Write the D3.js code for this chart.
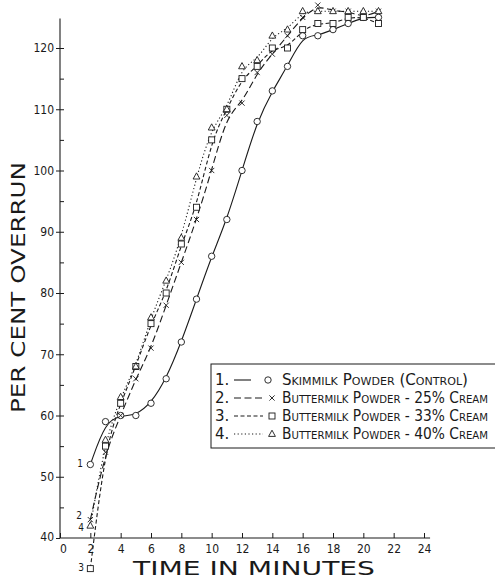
<!DOCTYPE html>
<html>
<head>
<meta charset="utf-8">
<script src="https://cdn.jsdelivr.net/npm/d3@7"></script>
<style>
  body { margin: 0; background: #fff; }
  svg { display: block; }
  text { fill: #1a1a1a; }
</style>
</head>
<body>
<svg id="chart" width="495" height="581"></svg>
<script>
// values (minutes / per cent overrun)
const times = [2, 3, 4, 5, 6, 7, 8, 9, 10, 11, 12, 13, 14, 15, 16, 17, 18, 19, 20, 21]
const skimmilk = [52, 59, 60, 60, 62, 66, 72, 79, 86, 92, 100, 108, 113, 117, 122, 122, 123, 124, 125, 125]
const butter_25 = [43, 54, 60, 66, 71, 78, 85, 92, 100, 109, 111, 116, 119, 122, 125, 127, 126, 126, 125, 126]
const butter_33 = [35, 55, 62, 68, 75, 80, 88, 94, 105, 110, 115, 117, 120, 120, 123, 124, 124, 125, 125, 124]
const butter_40 = [42, 56, 63, 68, 76, 82, 89, 99, 107, 110, 117, 118, 122, 123, 126, 126, 126, 126, 126, 126]

const x_ticks = [0, 2, 4, 6, 8, 10, 12, 14, 16, 18, 20, 22, 24]
const y_ticks = [40, 50, 60, 70, 80, 90, 100, 110, 120]
const y_minor = [45, 55, 65, 75, 85, 95, 105, 115]

const legend_nums = ['1.', '2.', '3.', '4.']
const legend_labels = [
  'Skimmilk Powder (Control)',
  'Buttermilk Powder - 25% Cream',
  'Buttermilk Powder - 33% Cream',
  'Buttermilk Powder - 40% Cream'
]
const curve_labels = ['1', '2', '3', '4']

const ink = '#1a1a1a'
const tick_font = '"Liberation Sans Narrow", "DejaVu Sans Condensed", "Liberation Sans", sans-serif'
const title_font = '"DejaVu Sans", "Liberation Sans", sans-serif'
const legend_font = '"DejaVu Sans Condensed", "Liberation Sans Narrow", "DejaVu Sans", sans-serif'

const svg = d3.select('#chart')

const x = d3.scaleLinear().domain([0, 24]).range([60, 424])
const y = d3.scaleLinear().domain([40, 120]).range([538, 48])

// series styles
const series = [
  { values: skimmilk, dash: null, marker: 'circle' },
  { values: butter_25, dash: '7,3.5', marker: 'cross' },
  { values: butter_33, dash: '4,2.5', marker: 'square' },
  { values: butter_40, dash: '1.2,2.4', marker: 'triangle' }
]

function draw_marker(g, kind, cx, cy) {
  if (kind == 'circle') {
    g.append('circle').attr('cx', cx).attr('cy', cy).attr('r', 3.2)
  } else if (kind == 'cross') {
    let s = 2.6
    g.append('path')
      .attr('d', `M${cx - s},${cy - s}L${cx + s},${cy + s}M${cx - s},${cy + s}L${cx + s},${cy - s}`)
  } else if (kind == 'square') {
    g.append('rect').attr('x', cx - 3).attr('y', cy - 3).attr('width', 6).attr('height', 6)
  } else {
    g.append('path')
      .attr('d', `M${cx},${cy - 3.8}L${cx + 3.4},${cy + 2.4}L${cx - 3.4},${cy + 2.4}Z`)
  }
}

// axes
let x_axis = d3.axisBottom(x)
  .tickValues(x_ticks)
  .tickSize(-5)
  .tickPadding(6)
  .tickFormat(d => d == 0 ? '0' : d)
let gx = svg.append('g')
  .attr('transform', `translate(0,${y(40)})`)
  .call(x_axis)
gx.select('.domain').remove()
gx.selectAll('line').attr('stroke', ink).attr('stroke-width', 1)
gx.selectAll('text')
  .style('font-family', tick_font)
  .style('font-size', '12px')
gx.selectAll('.tick').filter(d => d == 0).select('text').attr('dx', '0.25em')
svg.append('line')
  .attr('x1', x(0)).attr('x2', x(24.4))
  .attr('y1', y(40)).attr('y2', y(40))
  .attr('stroke', ink).attr('stroke-width', 1.1)

let y_axis = d3.axisLeft(y)
  .tickValues(y_ticks)
  .tickSize(4)
  .tickPadding(2)
let gy = svg.append('g')
  .attr('transform', `translate(${x(0)},0)`)
  .call(y_axis)
gy.select('.domain').remove()
gy.selectAll('line').attr('stroke', ink)
gy.selectAll('text')
  .style('font-family', tick_font)
  .style('font-size', '12px')
// drop the "40" a touch so it sits on the corner
gy.selectAll('.tick').filter(d => d == 40).select('text').attr('dy', '0.2em')

let gy_in = svg.append('g')
  .attr('transform', `translate(${x(0)},0)`)
  .call(d3.axisRight(y).tickValues(y_minor.concat(y_ticks.slice(1))).tickSize(4).tickFormat(''))
gy_in.select('.domain').remove()
gy_in.selectAll('line').attr('stroke', ink)
svg.append('line')
  .attr('x1', x(0)).attr('x2', x(0))
  .attr('y1', y(40)).attr('y2', y(124.8))
  .attr('stroke', ink).attr('stroke-width', 1.1)

// curves
let line = d3.line()
  .x((d, i) => x(times[i]))
  .y(d => y(d))
  .curve(d3.curveBasis)

let curves = svg.append('g').attr('fill', 'none').attr('stroke', ink).attr('stroke-width', 1.1)
series.forEach(s => {
  curves.append('path')
    .attr('d', line(s.values))
    .attr('stroke-dasharray', s.dash)
})

// markers
let marks = svg.append('g').attr('fill', '#fff').attr('stroke', ink).attr('stroke-width', 0.9)
series.forEach(s => {
  s.values.forEach((v, i) => draw_marker(marks, s.marker, x(times[i]), y(v)))
})

// curve numbers at the start of each line
let label_pos = [[83, 467], [82, 519], [84, 571], [84, 531]]
svg.selectAll('.curve-label')
  .data(curve_labels)
  .join('text')
  .attr('class', 'curve-label')
  .attr('x', (d, i) => label_pos[i][0])
  .attr('y', (d, i) => label_pos[i][1])
  .attr('text-anchor', 'end')
  .style('font-family', tick_font)
  .style('font-size', '10px')
  .text(d => d)

// legend
let legend = svg.append('g')
legend.append('rect')
  .attr('x', 211).attr('y', 364)
  .attr('width', 300).attr('height', 84)
  .attr('fill', '#fff').attr('stroke', ink).attr('stroke-width', 1)

let row_y = [385, 403, 421, 439]
legend_labels.forEach((lab, i) => {
  let ry = row_y[i]
  legend.append('text')
    .attr('x', 215).attr('y', ry)
    .style('font-family', title_font)
    .style('font-size', '15px')
    .text(legend_nums[i])
  legend.append('line')
    .attr('x1', 234).attr('x2', i == 0 ? 251 : 263)
    .attr('y1', ry - 5).attr('y2', ry - 5)
    .attr('stroke', ink).attr('stroke-width', 1.1)
    .attr('stroke-dasharray', series[i].dash)
  let mg = legend.append('g').attr('fill', '#fff').attr('stroke', ink).attr('stroke-width', 0.9)
  draw_marker(mg, series[i].marker, i == 0 ? 268 : 272, ry - 5)
  legend.append('text')
    .attr('x', 282).attr('y', ry)
    .attr('textLength', i == 0 ? 186 : 206)
    .attr('lengthAdjust', 'spacingAndGlyphs')
    .style('font-family', legend_font)
    .style('font-size', '15px')
    .style('font-variant', 'small-caps')
    .text(lab)
})

// axis titles
svg.append('text')
  .attr('x', 133).attr('y', 575)
  .attr('textLength', 242)
  .attr('lengthAdjust', 'spacingAndGlyphs')
  .style('font-family', title_font)
  .style('font-size', '19px')
  .text('TIME IN MINUTES')

svg.append('text')
  .attr('transform', 'translate(25,413) rotate(-90)')
  .attr('textLength', 251)
  .attr('lengthAdjust', 'spacingAndGlyphs')
  .style('font-family', title_font)
  .style('font-size', '19px')
  .text('PER CENT OVERRUN')
</script>
</body>
</html>
